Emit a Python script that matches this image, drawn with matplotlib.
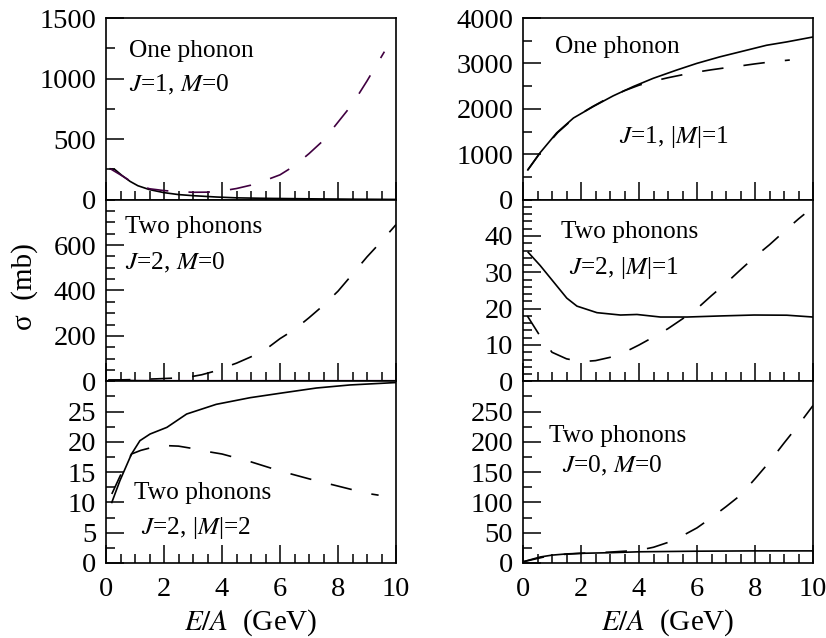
import matplotlib
matplotlib.use("Agg")
import matplotlib.pyplot as plt
from matplotlib.ticker import MultipleLocator

plt.rcParams['font.family'] = ['Liberation Serif', 'DejaVu Serif']
plt.rcParams['mathtext.fontset'] = 'stix'
plt.rcParams['lines.scale_dashes'] = False

# one phonon, J=1, M=0
x_1m0_solid = [0.15, 0.3, 0.55, 0.83, 1.1, 1.5, 2.0, 2.5, 3.0, 3.8, 4.5, 5.5, 7.0, 8.5, 10.0]
y_1m0_solid = [255, 250, 200, 151, 115, 83, 58, 42, 33, 22, 15, 11, 7, 4, 2]
x_1m0_dash = [0.15, 0.5, 1.0, 1.5, 2.0, 2.5, 3.0, 3.5, 4.0, 4.5, 5.0, 5.5, 6.0, 6.5, 7.0, 7.5, 8.0, 8.5, 9.0, 9.6]
y_1m0_dash = [255, 205, 130, 90, 75, 66, 61, 62, 72, 92, 120, 160, 205, 280, 380, 490, 640, 790, 980, 1222]

# two phonons, J=2, M=0
x_2m0_solid = [0.1, 0.5, 1.0, 2.0, 4.0, 10.0]
y_2m0_solid = [6, 5, 3, 2, 1, 0.5]
x_2m0_purple = [0.0, 10.0]
y_2m0_purple = [1.5, 1.5]
x_2m0_dash = [0.1, 1.0, 1.75, 2.5, 3.0, 3.3, 3.7, 4.0, 4.5, 5.0, 5.5, 6.0, 6.5, 7.0, 7.5, 8.0, 8.5, 9.0, 9.5, 10.0]
y_2m0_dash = [5, 8, 11, 15, 22, 29, 43, 57, 80, 108, 140, 188, 228, 280, 335, 397, 472, 548, 617, 690]

# two phonons, J=2, |M|=2
x_2m2_solid = [0.2, 0.48, 0.88, 1.17, 1.52, 2.1, 2.78, 3.8, 4.97, 6.1, 7.26, 8.41, 10.0]
y_2m2_solid = [10.0, 13.6, 18.0, 20.2, 21.3, 22.4, 24.6, 26.2, 27.3, 28.1, 28.9, 29.4, 29.8]
x_2m2_dash = [0.2, 0.5, 0.88, 1.2, 1.6, 2.0, 2.5, 3.0, 3.5, 4.0, 5.0, 6.0, 7.0, 8.0, 9.0, 9.4]
y_2m2_dash = [11.4, 14.5, 18.0, 18.6, 19.1, 19.4, 19.3, 18.9, 18.4, 18.0, 16.7, 15.2, 13.9, 12.7, 11.5, 11.2]

# one phonon, J=1, |M|=1
x_1m1_solid = [0.18, 0.59, 1.16, 1.74, 2.43, 3.11, 3.8, 4.49, 5.3, 5.99, 6.79, 7.48, 8.4, 9.09, 10.0]
y_1m1_solid = [670, 1034, 1470, 1798, 2053, 2286, 2490, 2672, 2854, 3000, 3145, 3254, 3400, 3473, 3582]
x_1m1_dash = [0.15, 0.6, 1.2, 1.8, 2.4, 3.0, 3.5, 4.0, 4.5, 5.0, 5.5, 6.0, 6.5, 7.0, 7.5, 8.0, 8.5, 9.2]
y_1m1_dash = [640, 1040, 1480, 1820, 2050, 2260, 2400, 2520, 2610, 2685, 2750, 2810, 2860, 2905, 2945, 2990, 3030, 3075]

# two phonons, J=2, |M|=1
x_2m1_solid = [0.18, 0.59, 1.05, 1.51, 1.86, 2.55, 3.36, 3.93, 4.74, 5.66, 6.82, 7.97, 9.1, 10.0]
y_2m1_solid = [35.5, 31.9, 27.4, 22.9, 20.7, 18.9, 18.25, 18.4, 17.7, 17.7, 18.0, 18.25, 18.2, 17.7]
x_2m1_dash = [0.15, 0.6, 1.0, 1.5, 2.0, 2.5, 3.0, 3.5, 4.0, 4.5, 5.0, 5.5, 6.0, 6.5, 7.0, 7.5, 8.0, 8.5, 9.0, 9.5, 9.7]
y_2m1_dash = [18, 12.3, 8, 6.2, 5.4, 5.7, 6.6, 8, 10, 12.2, 14.5, 17.2, 20, 23.6, 27, 30.7, 34.3, 37.6, 41.2, 44.7, 46]

# two phonons, J=0, M=0
x_0m0_solid = [0.0, 0.3, 0.6, 1.0, 1.5, 2.0, 3.0, 4.0, 5.0, 6.0, 8.0, 10.0]
y_0m0_solid = [2, 6, 10, 13, 15, 16, 17, 18.5, 19, 19.5, 20, 20]
x_0m0_dash = [0.0, 1.0, 2.0, 3.0, 4.0, 4.5, 5.0, 5.5, 6.0, 6.5, 7.0, 7.5, 8.0, 8.5, 9.0, 9.5, 10.0]
y_0m0_dash = [2, 13, 16, 18, 21, 26, 34, 45, 58, 75, 93, 112, 139, 167, 198, 228, 260]

purple = '#400040'
dash = (0, (15.5, 14.5))

fig = plt.figure(figsize=(8.26, 6.38), dpi=100)

W, H = 826.0, 638.0
col_left = [106, 523]
col_w = 290
top_px = 18
panel_h = 545 / 3.0

axes = []
for c in range(2):
    col = []
    for r in range(3):
        y0 = top_px + (r + 1) * panel_h
        ax = fig.add_axes([col_left[c] / W, 1 - y0 / H, col_w / W, panel_h / H])
        col.append(ax)
    axes.append(col)

# (ylim top, major step, minor step, shown major labels)
settings = [
    [(1500, 500, 250, [0, 500, 1000, 1500]),
     (800, 200, 50, [0, 200, 400, 600]),
     (30, 5, 2.5, [0, 5, 10, 15, 20, 25])],
    [(4000, 1000, 500, [0, 1000, 2000, 3000, 4000]),
     (50, 10, 2, [0, 10, 20, 30, 40]),
     (300, 50, 25, [0, 50, 100, 150, 200, 250])],
]

tick_fs = 20.5
note_fs = 18.3
label_fs = 21

for c in range(2):
    for r in range(3):
        ax = axes[c][r]
        top, major, minor, labels = settings[c][r]
        ax.set_xlim(0, 10)
        ax.set_ylim(0, top)
        ax.set_yticks(labels)
        ax.yaxis.set_minor_locator(MultipleLocator(minor))
        ax.xaxis.set_major_locator(MultipleLocator(2))
        ax.xaxis.set_minor_locator(MultipleLocator(0.5))
        ax.tick_params(which='both', direction='in', top=False, right=False,
                       width=1.1, labelsize=tick_fs)
        ax.tick_params(which='major', length=13)
        ax.tick_params(which='minor', length=6.5)
        ax.tick_params(axis='y', pad=7)
        ax.tick_params(axis='x', pad=10)
        for s in ax.spines.values():
            s.set_linewidth(1.2)
        if r < 2:
            ax.tick_params(axis='x', labelbottom=False)
        else:
            ax.set_xlabel('$E/A$  (GeV)', fontsize=label_fs, labelpad=4)

lw = 1.2
ax = axes[0][0]
ax.plot(x_1m0_solid, y_1m0_solid, color='black', lw=lw)
ax.plot(x_1m0_dash, y_1m0_dash, color=purple, lw=lw, linestyle=dash)
ax.text(0.08, 0.82, 'One phonon', transform=ax.transAxes, fontsize=note_fs, va='center')
ax.text(0.08, 0.63, '$J$=1, $M$=0', transform=ax.transAxes, fontsize=note_fs, va='center')

ax = axes[0][1]
ax.plot(x_2m0_dash, y_2m0_dash, color='black', lw=lw, linestyle=dash)
ax.plot(x_2m0_purple, y_2m0_purple, color=purple, lw=1.6)
ax.plot(x_2m0_solid, y_2m0_solid, color='black', lw=lw)
ax.text(0.065, 0.85, 'Two phonons', transform=ax.transAxes, fontsize=note_fs, va='center')
ax.text(0.065, 0.65, '$J$=2, $M$=0', transform=ax.transAxes, fontsize=note_fs, va='center')

ax = axes[0][2]
ax.plot(x_2m2_solid, y_2m2_solid, color='black', lw=lw)
ax.plot(x_2m2_dash, y_2m2_dash, color='black', lw=lw, linestyle=dash)
ax.text(0.095, 0.385, 'Two phonons', transform=ax.transAxes, fontsize=note_fs, va='center')
ax.text(0.12, 0.195, '$J$=2, |$M$|=2', transform=ax.transAxes, fontsize=note_fs, va='center')

ax = axes[1][0]
ax.plot(x_1m1_solid, y_1m1_solid, color='black', lw=lw)
ax.plot(x_1m1_dash, y_1m1_dash, color='black', lw=lw, linestyle=dash)
ax.text(0.11, 0.84, 'One phonon', transform=ax.transAxes, fontsize=note_fs, va='center')
ax.text(0.33, 0.345, '$J$=1, |$M$|=1', transform=ax.transAxes, fontsize=note_fs, va='center')

ax = axes[1][1]
ax.plot(x_2m1_solid, y_2m1_solid, color='black', lw=lw)
ax.plot(x_2m1_dash, y_2m1_dash, color='black', lw=lw, linestyle=dash)
ax.text(0.13, 0.82, 'Two phonons', transform=ax.transAxes, fontsize=note_fs, va='center')
ax.text(0.16, 0.625, '$J$=2, |$M$|=1', transform=ax.transAxes, fontsize=note_fs, va='center')

ax = axes[1][2]
ax.plot(x_0m0_solid, y_0m0_solid, color='black', lw=lw)
ax.plot(x_0m0_dash, y_0m0_dash, color='black', lw=lw, linestyle=dash)
ax.text(0.09, 0.70, 'Two phonons', transform=ax.transAxes, fontsize=note_fs, va='center')
ax.text(0.135, 0.535, '$J$=0, $M$=0', transform=ax.transAxes, fontsize=note_fs, va='center')

fig.text(25 / W, 1 - 287 / H, 'σ  (mb)', rotation=90, fontsize=label_fs,
         ha='center', va='center')

fig.savefig('out.png', dpi=100)
